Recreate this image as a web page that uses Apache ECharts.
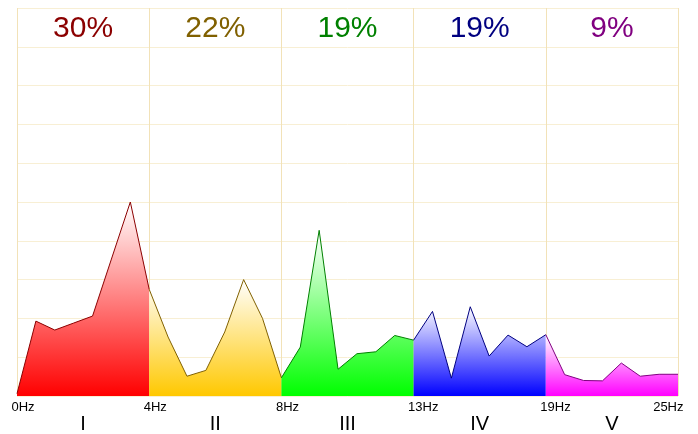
<!DOCTYPE html>
<html lang="en">
<head>
    <meta charset="utf-8">
    <title>EEG bands</title>
    <script src="https://cdn.jsdelivr.net/npm/echarts@6/dist/echarts.min.js"></script>
    <style>
        html, body { margin: 0; padding: 0; background: #fff; }
        #divBands { width: 698px; height: 434px; }
    </style>
</head>
<body>
<div id="divBands"></div>

<script>
    // one band = 8 points, neighbouring bands share the edge point
    var band1 = [0.06, 1.93, 1.70, 1.88, 2.06, 3.53, 5.00, 2.75];
    var band2 = [2.75, 1.52, 0.51, 0.66, 1.65, 3.00, 2.00, 0.47];
    var band3 = [0.47, 1.26, 4.27, 0.69, 1.09, 1.14, 1.56, 1.44];
    var band4 = [1.44, 2.18, 0.46, 2.30, 1.03, 1.57, 1.27, 1.58];
    var band5 = [1.58, 0.55, 0.40, 0.39, 0.85, 0.51, 0.56, 0.56];

    var freqLabels = ['0Hz', '4Hz', '8Hz', '13Hz', '19Hz', '25Hz'];
    var bandNames = ['I', 'II', 'III', 'IV', 'V'];
    var bandShares = ['30%', '22%', '19%', '19%', '9%'];

    var lineColors = ['#8b0000', '#806000', '#008000', '#000080', '#800080'];
    var fillColors = ['#ff0000', '#ffc800', '#00ff00', '#0000ff', '#ff00ff'];

    var bands = [band1, band2, band3, band4, band5];

    function buildSeries() {
        var out = [];
        for (var b = 0; b < bands.length; b++) {
            var pts = [];
            for (var i = 0; i < bands[b].length; i++) {
                pts.push([b * 7 + i, bands[b][i]]);
            }
            out.push({
                type: 'line',
                data: pts,
                symbol: 'none',
                silent: true,
                lineStyle: { color: lineColors[b], width: 1 },
                areaStyle: {
                    opacity: 1,
                    color: new echarts.graphic.LinearGradient(0, 0, 0, 1, [
                        { offset: 0, color: '#ffffff' },
                        { offset: 1, color: fillColors[b] }
                    ])
                }
            });
        }
        return out;
    }

    var shareRich = {};
    for (var k = 0; k < bandShares.length; k++) {
        shareRich['c' + k] = { color: lineColors[k], fontSize: 30, fontFamily: 'Liberation Sans' };
    }

    // hz labels start a few px left of their tick, the last one ends a few px right of it
    var hzRich = {
        l: { width: 11, align: 'left', fontSize: 13, fontFamily: 'Liberation Sans', color: '#000' },
        r: { width: 11, align: 'right', fontSize: 13, fontFamily: 'Liberation Sans', color: '#000' }
    };

    var myChart = echarts.init(document.getElementById('divBands'));

    var option = {
        animation: false,
        grid: { left: 17, right: 20, top: 8, bottom: 38 },
        xAxis: [
            {
                type: 'value',
                min: 0,
                max: 35,
                interval: 7,
                position: 'bottom',
                axisLine: { show: false },
                axisTick: { show: false },
                splitLine: { show: true, lineStyle: { color: '#f2e2b8', width: 1 } },
                axisLabel: {
                    margin: 5,
                    align: 'center',
                    alignMinLabel: 'center',
                    alignMaxLabel: 'center',
                    formatter: function (v) {
                        var idx = Math.round(v / 7);
                        var tag = idx === freqLabels.length - 1 ? 'r' : 'l';
                        return '{' + tag + '|' + freqLabels[idx] + '}';
                    },
                    rich: hzRich
                }
            },
            {
                type: 'category',
                data: bandNames,
                position: 'bottom',
                offset: 10,
                axisLine: { show: false },
                axisTick: { show: false },
                splitLine: { show: false },
                axisLabel: { fontSize: 20, fontFamily: 'Liberation Sans', color: '#000', margin: 8 }
            },
            {
                type: 'category',
                data: bandShares,
                position: 'top',
                axisLine: { show: false },
                axisTick: { show: false },
                splitLine: { show: false },
                axisLabel: {
                    inside: true,
                    margin: 6,
                    formatter: function (v, idx) { return '{c' + idx + '|' + v + '}'; },
                    rich: shareRich
                }
            }
        ],
        yAxis: {
            type: 'value',
            min: 0,
            max: 10,
            interval: 1,
            axisLine: { show: false },
            axisTick: { show: false },
            axisLabel: { show: false },
            splitLine: { show: true, lineStyle: { color: '#f8efd4', width: 1 } }
        },
        series: buildSeries()
    };

    myChart.setOption(option);
</script>
</body>
</html>
